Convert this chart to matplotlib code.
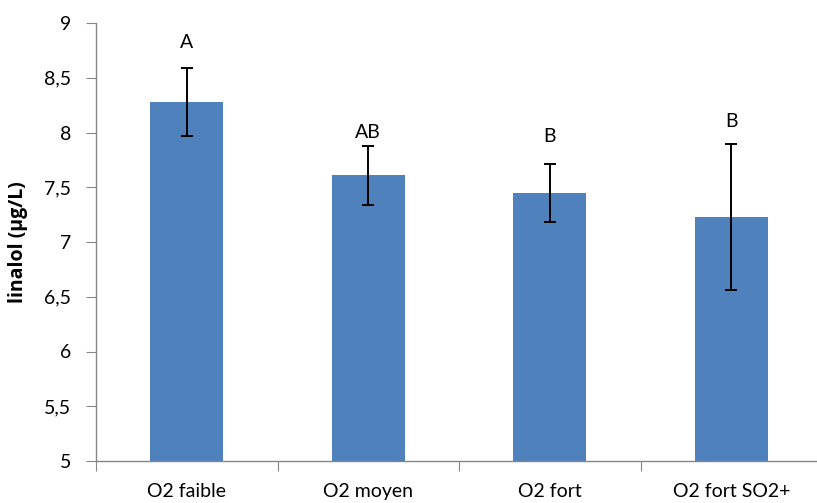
import numpy as np
import matplotlib.pyplot as plt
from matplotlib.ticker import FuncFormatter

# linalol concentration per oxygenation treatment
treatments = ['O2 faible', 'O2 moyen', 'O2 fort', 'O2 fort SO2+']
linalol = [8.28, 7.61, 7.45, 7.23]
erreur = [0.31, 0.27, 0.265, 0.665]
groupes = ['A', 'AB', 'B', 'B']

plt.rcParams['font.family'] = ['Lato', 'DejaVu Sans']

fig = plt.figure(figsize=(8.17, 5.03), dpi=100)
# axis box runs slightly past the right edge, like the original export
ax = fig.add_axes([96/817, 42/503, 726/817, 438/503])

x = np.arange(len(treatments))
ax.bar(x, linalol, width=0.4, color='#4F81BD', zorder=2)
ax.errorbar(x, linalol, yerr=erreur, fmt='none', ecolor='black',
            elinewidth=1.4, capsize=4.5, capthick=1.4, zorder=3)

# significance letters above the error bars
ecart = [0.23, 0.12, 0.25, 0.21]
for xi, m, e, g, d in zip(x, linalol, erreur, groupes, ecart):
    ax.text(xi, m + e + d, g, ha='center', va='center', fontsize=14)

ax.set_xlim(-0.5, len(treatments) - 0.5)
ax.set_ylim(5, 9)
ax.set_yticks(np.arange(5, 9.01, 0.5))
ax.yaxis.set_major_formatter(FuncFormatter(
    lambda v, p: ('%g' % v).replace('.', ',')))

# category labels sit between boundary ticks
ax.set_xticks(np.arange(-0.5, len(treatments), 1.0))
ax.set_xticklabels([])
ax.set_xticks(x, minor=True)
ax.set_xticklabels(treatments, minor=True, fontsize=14)
ax.tick_params(axis='x', which='minor', length=0, pad=16)
ax.tick_params(axis='x', which='major', length=7, color='#868686')
ax.tick_params(axis='y', length=7, color='#868686', labelsize=14, pad=11)

for s in ['top', 'right']:
    ax.spines[s].set_visible(False)
for s in ['left', 'bottom']:
    ax.spines[s].set_color('#868686')
    ax.spines[s].set_linewidth(1.0)

ax.set_ylabel('linalol (µg/L)', fontsize=14, fontweight='bold',
              family=['Open Sans', 'DejaVu Sans'])
ax.yaxis.set_label_coords(-0.094, 0.5)

plt.savefig('out.png', dpi=100)
